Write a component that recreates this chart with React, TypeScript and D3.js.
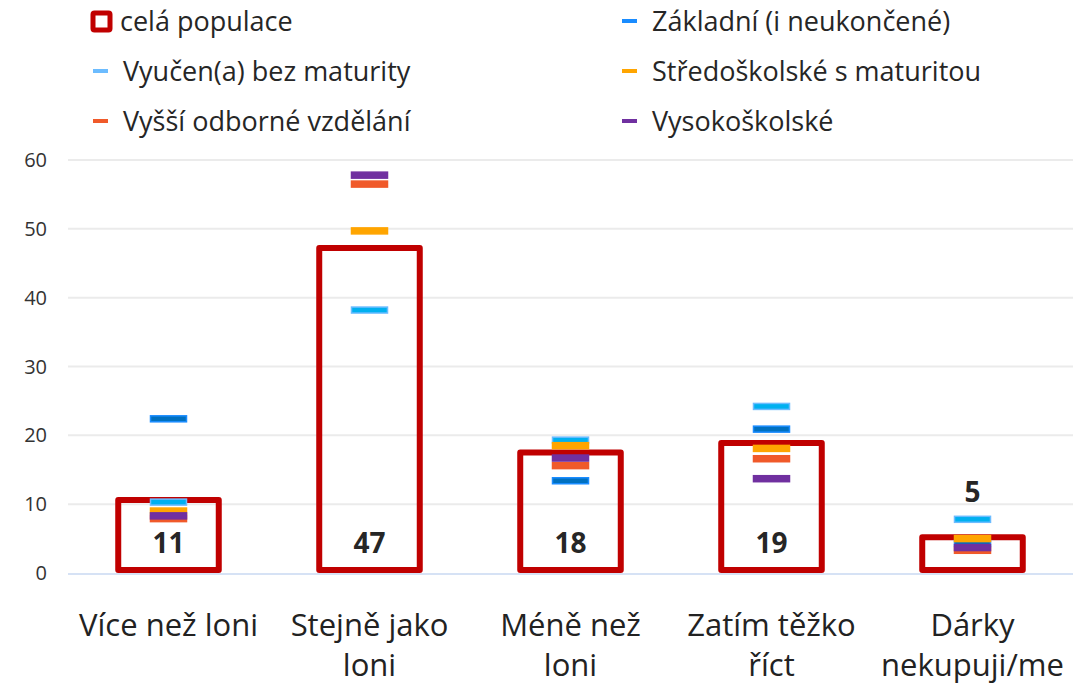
import React, { useEffect, useRef } from 'react';
import * as d3 from 'd3';

const categories = ['Více než loni', 'Stejně jako loni', 'Méně než loni', 'Zatím těžko říct', 'Dárky nekupuji/me'];
const categoryLines = [['Více než loni'], ['Stejně jako', 'loni'], ['Méně než', 'loni'], ['Zatím těžko', 'říct'], ['Dárky', 'nekupuji/me']];
const population = [10.6, 47.2, 17.5, 18.9, 5.2];
const populationLabels = ['11', '47', '18', '19', '5'];

const seriesNames = ['Základní (i neukončené)', 'Vyučen(a) bez maturity', 'Středoškolské s maturitou', 'Vyšší odborné vzdělání', 'Vysokoškolské'];
const zakladni = [22.4, null, 13.4, 20.9, 4.3];
const vyucen = [10.3, 38.2, 19.3, 24.2, 7.8];
const stredoskolske = [9.0, 49.7, 18.5, 18.1, 5.0];
const vyssiOdborne = [7.9, 56.5, 15.6, 16.6, 3.3];
const vysokoskolske = [8.3, 57.8, 16.7, 13.7, 3.7];
const yTicks = [0, 10, 20, 30, 40, 50, 60];

const seriesValues = [zakladni, vyucen, stredoskolske, vyssiOdborne, vysokoskolske];
const seriesFill = ['#0070c0', '#00b0f0', '#ffa500', '#f05a2a', '#7030a0'];
const seriesStroke = ['#1a8cff', '#6cbcff', '#ffa500', '#f05a2a', '#7030a0'];

const FONT = '"Comic Sans MS", "Open Sans", sans-serif';

const App = () => {
  const svgRef = useRef<SVGSVGElement>(null);

  useEffect(() => {
    const width = 1083;
    const height = 687;
    const svg = d3.select(svgRef.current);
    svg.selectAll('*').remove();
    svg.attr('width', width).attr('height', height);

    const x = d3.scaleBand<string>().domain(categories).range([68, 1073]).paddingInner(0.47).paddingOuter(0.235);
    const y = d3.scaleLinear().domain([0, 60]).range([573, 160]);

    // grid
    svg.append('g')
      .selectAll('line')
      .data(yTicks.filter(t => t > 0))
      .join('line')
      .attr('x1', 68).attr('x2', 1073)
      .attr('y1', d => y(d)).attr('y2', d => y(d))
      .attr('stroke', '#ebebeb').attr('stroke-width', 2);

    svg.append('g')
      .selectAll('text')
      .data(yTicks)
      .join('text')
      .attr('x', 47).attr('y', d => y(d) + 7)
      .attr('text-anchor', 'end')
      .attr('font-family', FONT).attr('font-size', 20).attr('fill', '#333')
      .text(d => d);

    // baseline
    svg.append('line')
      .attr('x1', 68).attr('x2', 1073)
      .attr('y1', y(0) + 1).attr('y2', y(0) + 1)
      .attr('stroke', '#d6e2f5').attr('stroke-width', 2);

    // bars (outline kept above the baseline)
    svg.append('g')
      .selectAll('rect')
      .data(population)
      .join('rect')
      .attr('x', (d, i) => x(categories[i])! + 3)
      .attr('y', d => y(d))
      .attr('width', x.bandwidth() - 6)
      .attr('height', d => y(0) - y(d) - 3)
      .attr('fill', 'none')
      .attr('stroke', '#c00000')
      .attr('stroke-width', 6)
      .attr('stroke-linejoin', 'round');

    // series markers
    seriesValues.forEach((vals, s) => {
      const pts = vals.map((v, i) => ({ v, c: categories[i] })).filter(p => p.v !== null);
      svg.append('g')
        .selectAll('rect')
        .data(pts)
        .join('rect')
        .attr('x', p => x(p.c)! + x.bandwidth() / 2 - 18)
        .attr('y', p => y(p.v as number) - 3)
        .attr('width', 36)
        .attr('height', 6)
        .attr('fill', seriesFill[s])
        .attr('stroke', seriesStroke[s])
        .attr('stroke-width', 1.5);
    });

    // value labels
    svg.append('g')
      .selectAll('text')
      .data(population)
      .join('text')
      .attr('x', (d, i) => x(categories[i])! + x.bandwidth() / 2)
      .attr('y', d => (d >= 10 ? y(0) - 20 : y(d) - 35))
      .attr('text-anchor', 'middle')
      .attr('font-family', FONT).attr('font-weight', 'bold').attr('font-size', 28).attr('fill', '#262626')
      .text((d, i) => populationLabels[i]);

    // category labels
    const cat = svg.append('g')
      .selectAll('text')
      .data(categoryLines)
      .join('text')
      .attr('x', (d, i) => x(categories[i])! + x.bandwidth() / 2)
      .attr('y', 636)
      .attr('text-anchor', 'middle')
      .attr('font-family', FONT).attr('font-size', 31).attr('fill', '#222');
    cat.selectAll('tspan')
      .data(d => d)
      .join('tspan')
      .attr('x', function () { return (this.parentNode as SVGTextElement).getAttribute('x'); })
      .attr('dy', (d, i) => (i === 0 ? 0 : 40))
      .text(d => d);

    // legend
    const legend = svg.append('g').attr('font-family', FONT).attr('font-size', 27).attr('fill', '#262626');
    const popItem = legend.append('g');
    popItem.append('rect').attr('x', 93).attr('y', 13).attr('width', 17).attr('height', 17)
      .attr('fill', '#fff').attr('stroke', '#c00000').attr('stroke-width', 5).attr('rx', 1.5);
    popItem.append('text').attr('x', 120).attr('y', 31).text('celá populace');

    const legendPos = [[1, 0], [0, 1], [1, 1], [0, 2], [1, 2]];
    seriesNames.forEach((name, s) => {
      const [col, row] = legendPos[s];
      const lx = col === 0 ? 93 : 622;
      const ly = 21 + row * 50;
      legend.append('rect').attr('x', lx).attr('y', ly - 2).attr('width', 15).attr('height', 4)
        .attr('fill', seriesStroke[s]);
      legend.append('text').attr('x', lx + 30).attr('y', ly + 10).text(name);
    });
  }, []);

  return <svg ref={svgRef} style={{ position: 'absolute', left: 0, top: 0 }}></svg>;
};

export default App;
